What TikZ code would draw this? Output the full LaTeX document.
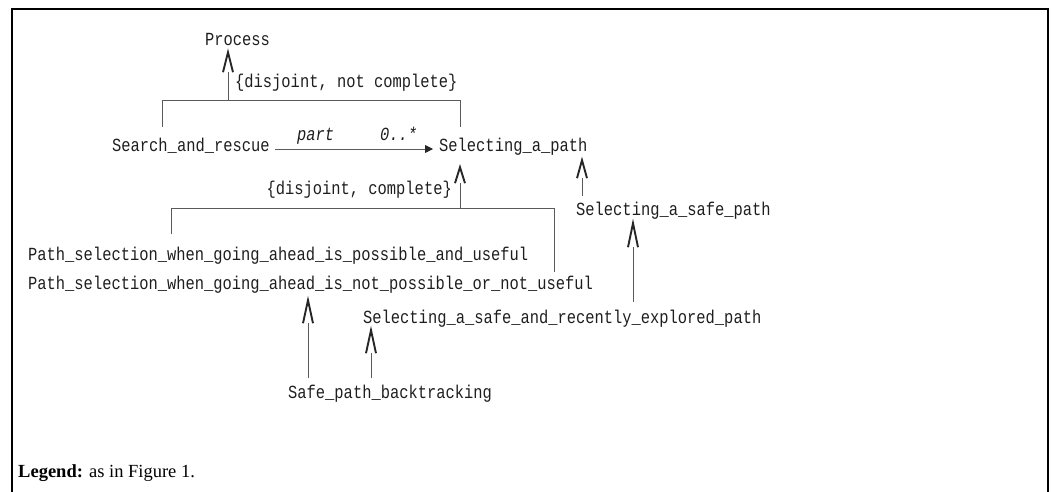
\documentclass[tikz,border=0pt]{standalone}
\usepackage{fontspec}
\setmainfont{Liberation Serif}
\newfontfamily\umlfont[FakeStretch=0.834]{Liberation Mono}
\usetikzlibrary{arrows.meta,calc}
\definecolor{conn}{HTML}{5A5A5A}
\definecolor{tipc}{HTML}{262626}
\definecolor{txt}{HTML}{1E1E1E}
\pgfdeclarearrow{
  name = OpenV,
  parameters = {\the\pgfarrowlength,\the\pgfarrowwidth},
  setup code = {
    \pgfarrowssettipend{0pt}
    \pgfarrowssetlineend{-\pgfarrowlength}
    \pgfarrowssetvisualbackend{-\pgfarrowlength}
    \pgfarrowssetbackend{-\pgfarrowlength}
    \pgfarrowshullpoint{0pt}{0pt}
    \pgfarrowshullpoint{-\pgfarrowlength}{.5\pgfarrowwidth}
    \pgfarrowshullpoint{-\pgfarrowlength}{-.5\pgfarrowwidth}
    \pgfarrowssavethe\pgfarrowlength
    \pgfarrowssavethe\pgfarrowwidth
  },
  drawing code = {
    \pgfsetlinewidth{1.9pt}
    \pgfsetmiterjoin
    \pgfsetbuttcap
    \pgfpathmoveto{\pgfqpoint{-\pgfarrowlength}{.5\pgfarrowwidth}}
    \pgfpathlineto{\pgfqpoint{0pt}{0pt}}
    \pgfpathlineto{\pgfqpoint{-\pgfarrowlength}{-.5\pgfarrowwidth}}
    \pgfusepathqstroke
  },
  defaults = {length=20pt, width=10pt}
}
\tikzset{
  cls/.style={inner sep=0pt, anchor=base west, text height=13pt, text depth=4pt,
    font=\umlfont\fontsize{18.5}{22}\selectfont, text=txt},
  lbl/.style={cls, font=\umlfont\itshape\fontsize{18.5}{22}\selectfont},
  leg/.style={inner sep=0pt, anchor=base west, font=\fontsize{18.5}{22}\selectfont, text=black},
  conline/.style={draw=conn, line width=0.9pt},
  gen/.style={conline, -{OpenV[length=#1, color=tipc]}},
  gen/.default=20pt,
  assoc/.style={conline, -{Triangle[length=8pt, width=8pt, color=tipc]}},
  frame/.style={draw=black, line width=1.5pt}
}
\begin{document}
\begin{tikzpicture}[x=1pt, y=-1pt]
\useasboundingbox (0,0) rectangle (1052,491);
\draw[frame] (12,495) -- (12,9) -- (1048,9) -- (1048,495);

% nodes
\node[cls] (P) at (205,45) {Process};
\node[cls] (C1) at (235,87) {\{disjoint, not complete\}};
\node[cls] (SR) at (112,151) {Search\_and\_rescue};
\node[cls] (SAP) at (439,151) {Selecting\_a\_path};
\node[lbl] (part) at (297,140) {part};
\node[lbl] (mult) at (380,140) {0..*};
\node[cls, anchor=base east] (C2) at (452,194) {\{disjoint, complete\}};
\node[cls] (T1) at (28,260) {Path\_selection\_when\_going\_ahead\_is\_possible\_and\_useful};
\node[cls] (T2) at (28,289) {Path\_selection\_when\_going\_ahead\_is\_not\_possible\_or\_not\_useful};
\node[cls] (SSP) at (576,215) {Selecting\_a\_safe\_path};
\node[cls] (SSR) at (363,323) {Selecting\_a\_safe\_and\_recently\_explored\_path};
\node[cls] (SPB) at (288,398) {Safe\_path\_backtracking};
\node[leg] (L) at (18,477) {\textbf{Legend:} as in Figure 1.};

% junction coordinates
\coordinate (J1) at (228,100);
\coordinate (J2) at (460,208);

% generalization 1: Search_and_rescue, Selecting_a_path -> Process
\draw[conline] ([yshift=11pt]SR.north -| 162,0) -- (162,100) -- (460,100)
  -- ([yshift=11pt]SAP.north -| 460,0);
\draw[gen=20pt] (J1) -- ([yshift=-3pt]P.south -| J1);

% association
\draw[assoc] ([xshift=5pt,yshift=2pt]SR.base east) -- ([xshift=-6pt,yshift=2pt]SAP.base west);

% generalization 2: Path_selection ... -> Selecting_a_path
\draw[conline] ([yshift=13pt]T1.north -| 171,0) -- (171,208) -- (554,208)
  -- ([yshift=4pt]T2.north -| 554,0);
\draw[gen=16pt] (J2) -- ([yshift=-12pt]SAP.south -| J2);

% Selecting_a_safe_path -> Selecting_a_path
\draw[gen=18pt] ([yshift=6pt]SSP.north -| 582,0) -- ([yshift=-5pt]SAP.south -| 582,0);
% Selecting_a_safe_and_recently_explored_path -> Selecting_a_safe_path
\draw[gen=24pt] ([yshift=8pt]SSR.north -| 633,0) -- ([yshift=-4pt]SSP.south -| 633,0);
% Safe_path_backtracking -> Path_selection ... not_useful
\draw[gen=23pt] ([yshift=7pt]SPB.north -| 308,0) -- ([yshift=-7pt]T2.south -| 308,0);
% Safe_path_backtracking -> Selecting_a_safe_and_recently_explored_path
\draw[gen=23pt] ([yshift=7pt]SPB.north -| 371,0) -- ([yshift=-3pt]SSR.south -| 371,0);
\end{tikzpicture}
\end{document}
